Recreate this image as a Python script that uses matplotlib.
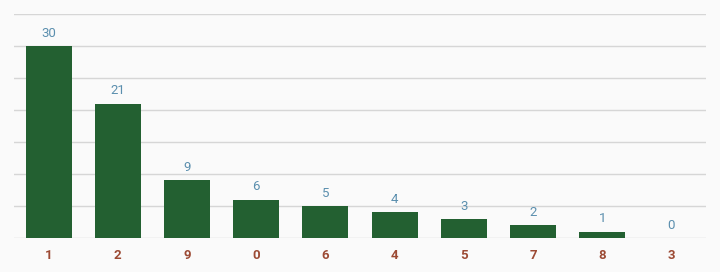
import matplotlib
matplotlib.use("Agg")
import matplotlib.pyplot as plt
import numpy as np

plt.rcParams['font.family'] = ['Roboto', 'DejaVu Sans']

# data
categories = ['1', '2', '9', '0', '6', '4', '5', '7', '8', '3']
counts = [30, 21, 9, 6, 5, 4, 3, 2, 1, 0]

bg = '#fafafa'
fig = plt.figure(figsize=(7.2, 2.72), dpi=100, facecolor=bg)
ax = fig.add_axes([14/720, 34/272, 692/720, 224/272], facecolor=bg)

x = np.arange(len(categories))
ax.bar(x, counts, width=0.665, color='#236031', zorder=3)

for xi, v in zip(x, counts):
    ax.annotate(str(v), (xi, v), xytext=(0, 4.5), textcoords='offset points',
                ha='center', va='bottom', fontsize=9.5, color='#5b8fae')

ax.set_xlim(-0.5, len(categories) - 0.5)
ax.set_ylim(0, 35)
ax.set_yticks(np.arange(0, 36, 5))
ax.set_yticklabels([])
ax.set_xticks(x)
ax.set_xticklabels(categories, fontsize=9.5, fontweight='bold', color='#9c4a34')
ax.tick_params(axis='both', length=0)
ax.tick_params(axis='x', pad=8)
ax.grid(axis='y', color='#d6d6d6', linewidth=1, zorder=0)
for s in ax.spines.values():
    s.set_visible(False)

fig.savefig('out.png', dpi=100, facecolor=bg)
